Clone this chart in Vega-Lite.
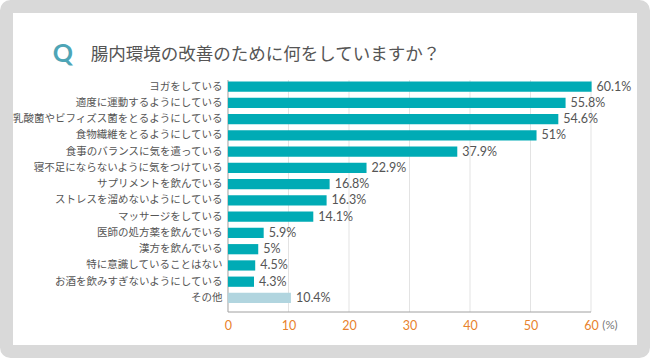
{
  "$schema": "https://vega.github.io/schema/vega-lite/v6.json",
  "width": 637,
  "height": 345,
  "padding": 6.5,
  "autosize": "none",
  "background": "white",
  "config": {
    "view": {"fill": "white", "stroke": "#d9d9d9", "strokeWidth": 13, "cornerRadius": 4},
    "font": "Noto Sans CJK JP"
  },
  "datasets": {
    "rows": [
      {"item": "ヨガをしている", "pct": 60.1, "label": "60.1%", "group": "main"},
      {"item": "適度に運動するようにしている", "pct": 55.8, "label": "55.8%", "group": "main"},
      {"item": "乳酸菌やビフィズス菌をとるようにしている", "pct": 54.6, "label": "54.6%", "group": "main"},
      {"item": "食物繊維をとるようにしている", "pct": 51, "label": "51%", "group": "main"},
      {"item": "食事のバランスに気を遣っている", "pct": 37.9, "label": "37.9%", "group": "main"},
      {"item": "寝不足にならないように気をつけている", "pct": 22.9, "label": "22.9%", "group": "main"},
      {"item": "サプリメントを飲んでいる", "pct": 16.8, "label": "16.8%", "group": "main"},
      {"item": "ストレスを溜めないようにしている", "pct": 16.3, "label": "16.3%", "group": "main"},
      {"item": "マッサージをしている", "pct": 14.1, "label": "14.1%", "group": "main"},
      {"item": "医師の処方薬を飲んでいる", "pct": 5.9, "label": "5.9%", "group": "main"},
      {"item": "漢方を飲んでいる", "pct": 5, "label": "5%", "group": "main"},
      {"item": "特に意識していることはない", "pct": 4.5, "label": "4.5%", "group": "main"},
      {"item": "お酒を飲みすぎないようにしている", "pct": 4.3, "label": "4.3%", "group": "main"},
      {"item": "その他", "pct": 10.4, "label": "10.4%", "group": "other"}
    ],
    "grid": [{"v": 10}, {"v": 20}, {"v": 30}, {"v": 40}, {"v": 50}, {"v": 60}]
  },
  "layer": [
    {
      "layer": [
        {
          "data": {"name": "grid"},
          "mark": {"type": "rule", "color": "#e3e3e3", "strokeWidth": 1},
          "encoding": {
            "x": {"field": "v", "type": "quantitative", "scale": {"domain": [-36.61, 68.68], "nice": false, "zero": false}},
            "y": {"datum": 0, "type": "quantitative", "scale": {"domain": [0, 1], "range": [305.5, 73.5], "nice": false, "zero": false}, "axis": null},
            "y2": {"datum": 1}
          }
        },
        {
          "data": {"values": [{"a": 0}]},
          "mark": {"type": "rule", "color": "#a0a0a0", "strokeWidth": 1},
          "encoding": {
            "x": {"datum": 0, "type": "quantitative"},
            "y": {"datum": 0, "type": "quantitative"},
            "y2": {"datum": 1}
          }
        },
        {
          "data": {"values": [{"a": 0}]},
          "mark": {"type": "rule", "color": "#a0a0a0", "strokeWidth": 1},
          "encoding": {
            "x": {"datum": 0, "type": "quantitative"},
            "x2": {"datum": 60},
            "y": {"datum": 0, "type": "quantitative"}
          }
        },
        {
          "data": {"values": [{"t": "(%)"}]},
          "mark": {"type": "text", "align": "center", "baseline": "middle", "dx": 19, "font": "Lato", "fontSize": 11.5, "color": "#777777"},
          "encoding": {
            "x": {"datum": 60, "type": "quantitative"},
            "y": {"datum": -0.0603, "type": "quantitative"},
            "text": {"field": "t"}
          }
        },
        {
          "data": {"values": [{"t": "Q"}]},
          "mark": {"type": "text", "align": "left", "baseline": "middle", "font": "Lato", "fontWeight": "bold", "fontSize": 25, "color": "#4ea5b6"},
          "encoding": {
            "x": {"datum": -28.97, "type": "quantitative"},
            "y": {"datum": 1.112, "type": "quantitative"},
            "text": {"field": "t"}
          }
        },
        {
          "data": {"values": [{"t": "腸内環境の改善のために何をしていますか？"}]},
          "mark": {"type": "text", "align": "left", "baseline": "middle", "font": "Noto Sans CJK JP", "fontSize": 17.5, "color": "#555555"},
          "encoding": {
            "x": {"datum": -22.69, "type": "quantitative"},
            "y": {"datum": 1.1078, "type": "quantitative"},
            "text": {"field": "t"}
          }
        }
      ]
    },
    {
      "data": {"name": "rows"},
      "encoding": {
        "y": {
          "field": "item",
          "type": "nominal",
          "sort": null,
          "scale": {"range": [73.5, 305.5], "paddingInner": 0.37, "paddingOuter": 0.3235, "align": 0.15},
          "axis": {
            "orient": "left",
            "offset": -221.5,
            "title": null,
            "domain": false,
            "ticks": false,
            "labelPadding": 6,
            "labelFontSize": 10.5,
            "labelColor": "#555555",
            "labelLimit": 400,
            "labelFont": "Noto Sans CJK JP"
          }
        },
        "x": {
          "field": "pct",
          "type": "quantitative",
          "scale": {"domain": [-36.61, 68.68], "nice": false, "zero": false},
          "axis": {
            "orient": "bottom",
            "offset": -39.5,
            "title": null,
            "values": [0, 10, 20, 30, 40, 50, 60],
            "domain": false,
            "ticks": false,
            "tickSize": 0,
            "grid": false,
            "labelPadding": 7,
            "labelFont": "Lato",
            "labelFontSize": 12.5,
            "labelColor": "#e8822c"
          }
        }
      },
      "layer": [
        {
          "mark": {"type": "bar"},
          "encoding": {
            "color": {
              "field": "group",
              "type": "nominal",
              "scale": {"domain": ["main", "other"], "range": ["#00abb5", "#b1d5df"]},
              "legend": null
            }
          }
        },
        {
          "mark": {"type": "text", "align": "left", "baseline": "middle", "dx": 5, "font": "Lato", "fontSize": 12.5, "color": "#555555"},
          "encoding": {"text": {"field": "label"}}
        }
      ]
    }
  ],
  "resolve": {"scale": {"y": "independent"}, "axis": {"y": "independent"}}
}
